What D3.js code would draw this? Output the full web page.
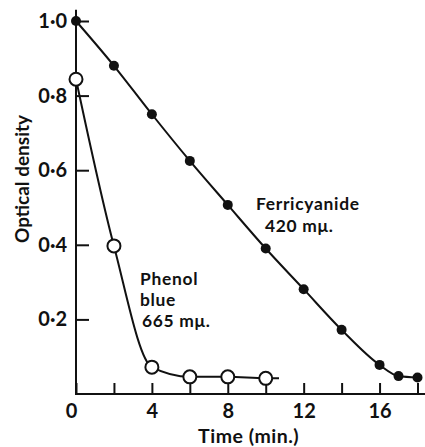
<!DOCTYPE html>
<html>
<head>
<meta charset="utf-8">
<script src="https://cdn.jsdelivr.net/npm/d3@7"></script>
<style>
  body { margin: 0; background: #fff; }
  svg text { font-family: Lato, "Open Sans", sans-serif; font-weight: 700; fill: #111; }
</style>
</head>
<body>
<div id="chart"></div>
<script>
// Optical density vs time, ferricyanide and phenol blue
const ferriTime = [0, 2, 4, 6, 8, 10, 12, 14, 16, 17, 18];
const ferriOD   = [1.0, 0.88, 0.75, 0.625, 0.507, 0.39, 0.281, 0.172, 0.078, 0.048, 0.044];

const phenolTime = [0, 2, 4, 6, 8, 10];
const phenolOD   = [0.844, 0.397, 0.072, 0.046, 0.046, 0.042];
const phenolTail = [10.7, 0.042]; // where the drawn curve stops

const xTicks = [0, 2, 4, 6, 8, 10, 12, 14, 16, 18];
const xLabels = [0, 4, 8, 12, 16];
const yTicks = [0.2, 0.4, 0.6, 0.8, 1.0];

const width = 425, height = 447;

const svg = d3.select('#chart').append('svg')
    .attr('width', width)
    .attr('height', height);

const x = d3.scaleLinear().domain([0, 18]).range([76, 417.5]);
const y = d3.scaleLinear().domain([0, 1]).range([394, 21]);

// axis lines
svg.append('line')
    .attr('x1', x(0)).attr('x2', x(0))
    .attr('y1', y(0) + 1).attr('y2', y(1.03))
    .style('stroke', '#111').style('stroke-width', 2);
svg.append('line')
    .attr('x1', x(0) - 1).attr('x2', width)
    .attr('y1', y(0)).attr('y2', y(0))
    .style('stroke', '#111').style('stroke-width', 2);

const fmt = d => d.toFixed(1).replace('.', '·');

const yAxis = svg.append('g')
    .attr('transform', `translate(${x(0)},0)`)
    .call(d3.axisLeft(y).tickValues(yTicks).tickSize(-13).tickPadding(9).tickFormat(fmt));
yAxis.select('.domain').remove();
yAxis.selectAll('line').style('stroke', '#111').style('stroke-width', 2);
yAxis.selectAll('text').style('font-size', '20px');

const xAxis = svg.append('g')
    .attr('transform', `translate(0,${y(0)})`)
    .call(d3.axisBottom(x).tickValues(xTicks).tickSize(-11).tickPadding(10)
        .tickFormat(d => xLabels.includes(d) ? d : ''));
xAxis.select('.domain').remove();
xAxis.selectAll('line').style('stroke', '#111').style('stroke-width', 2);
xAxis.selectAll('text').style('font-size', '20px');
xAxis.selectAll('.tick').filter(d => d === 0).select('text').attr('x', -5);

// axis titles
svg.append('text')
    .attr('x', x(9.1))
    .attr('y', 443)
    .attr('text-anchor', 'middle')
    .style('font-size', '19.5px')
    .style('letter-spacing', '0.5px')
    .text('Time (min.)');

svg.append('text')
    .attr('transform', 'translate(29,179) rotate(-90)')
    .attr('text-anchor', 'middle')
    .style('font-size', '19px')
    .text('Optical density');

// curves
const ferri = ferriTime.map((t, i) => [t, ferriOD[i]]);
const phenol = phenolTime.map((t, i) => [t, phenolOD[i]]);

const line = d3.line()
    .x(d => x(d[0]))
    .y(d => y(d[1]))
    .curve(d3.curveMonotoneX);

svg.append('path')
    .attr('d', line(ferri))
    .style('fill', 'none').style('stroke', '#111').style('stroke-width', 2);

svg.append('path')
    .attr('d', line(phenol.concat([phenolTail])))
    .style('fill', 'none').style('stroke', '#111').style('stroke-width', 2);

svg.selectAll('.ferri-dot')
    .data(ferri)
    .enter().append('circle')
    .attr('class', 'ferri-dot')
    .attr('cx', d => x(d[0]))
    .attr('cy', d => y(d[1]))
    .attr('r', 5)
    .style('fill', '#111');

svg.selectAll('.phenol-dot')
    .data(phenol)
    .enter().append('circle')
    .attr('class', 'phenol-dot')
    .attr('cx', d => x(d[0]))
    .attr('cy', d => y(d[1]))
    .attr('r', 6.5)
    .style('fill', '#fff')
    .style('stroke', '#111')
    .style('stroke-width', 2);

// curve labels, one text block each with a tspan per line
function blockLabel(lines, x0, y0, dy) {
    const t = svg.append('text')
        .attr('class', 'curve-label')
        .attr('y', y0)
        .style('font-size', '17.4px')
        .style('letter-spacing', '0.7px');
    lines.forEach((l, i) => {
        t.append('tspan')
            .attr('x', x0 + l.indent)
            .attr('dy', i === 0 ? 0 : dy)
            .text(l.text);
    });
}
blockLabel([{ text: 'Ferricyanide', indent: 0 }, { text: '420 mμ.', indent: 9 }], 256, 210, 22);
blockLabel([{ text: 'Phenol', indent: 0 }, { text: 'blue', indent: 0 }, { text: '665 mμ.', indent: 2 }], 140, 285, 21);
</script>
</body>
</html>
